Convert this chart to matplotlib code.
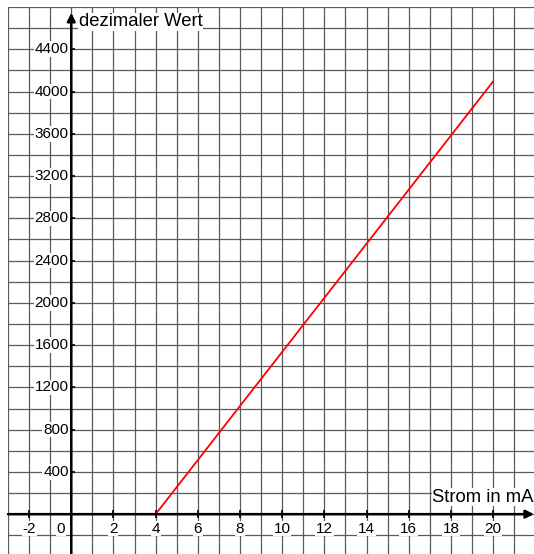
import matplotlib.pyplot as plt

plt.rcParams['font.family'] = ['Liberation Sans', 'DejaVu Sans']

# Data
current_ma = [4, 20]
decimal_value = [0, 4095]

x_ticks = [-2, 0, 2, 4, 6, 8, 10, 12, 14, 16, 18, 20]
y_ticks = [400, 800, 1200, 1600, 2000, 2400, 2800, 3200, 3600, 4000, 4400]

x_label = "Strom in mA"
y_label = "dezimaler Wert"

fig = plt.figure(figsize=(5.34, 5.54), dpi=100)
ax = fig.add_axes([8 / 534, 0, 526 / 534, 547 / 554])
ax.set_xlim(-3, 21.94)
ax.set_ylim(-377, 4800)

# grid: one line per unit in x, every 200 in y
ax.set_xticks(range(-3, 22))
ax.set_yticks(range(-200, 4801, 200))
ax.grid(True, color="#5a5a5a", lw=0.9)
ax.tick_params(length=0, labelbottom=False, labelleft=False)
for s in ax.spines.values():
    s.set_visible(False)

# axes through the origin with arrows
ax.annotate("", xy=(21.94, 0), xytext=(-3, 0),
            arrowprops=dict(arrowstyle="-|>", color="black", lw=1.8,
                            mutation_scale=12, shrinkA=0, shrinkB=0))
ax.annotate("", xy=(0, 4745), xytext=(0, -377),
            arrowprops=dict(arrowstyle="-|>", color="black", lw=1.8,
                            mutation_scale=12, shrinkA=0, shrinkB=0))

# tick marks
ax.plot(x_ticks, [0] * len(x_ticks), "|", color="black", ms=6, mew=1.2)
ax.plot([0] * len(y_ticks), y_ticks, "_", color="black", ms=6, mew=1.2)

box = dict(facecolor="white", edgecolor="none", pad=0.5)
for t in x_ticks:
    xpos = -0.5 if t == 0 else t
    ax.text(xpos, -70, str(t), ha="center", va="top", fontsize=11, bbox=box)
for t in y_ticks:
    ax.text(-0.12, t, str(t), ha="right", va="center", fontsize=11, bbox=box)

ax.text(0.35, 4660, y_label, ha="left", va="center", fontsize=13.3, bbox=box)
ax.text(21.94, 160, x_label, ha="right", va="center", fontsize=13.3, bbox=box)

# the conversion line
ax.plot(current_ma, decimal_value, color="red", lw=1.3)

fig.savefig("out.png", dpi=100)
